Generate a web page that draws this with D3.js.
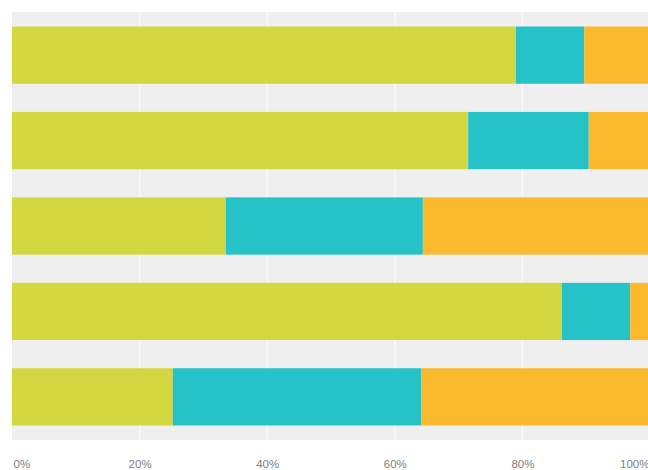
<!DOCTYPE html>
<html>
<head>
<meta charset="utf-8">
<script src="https://cdn.jsdelivr.net/npm/d3@7"></script>
<style>
  body { margin: 0; background: #fff; }
  svg { display: block; }
</style>
</head>
<body>
<svg id="chart" width="648" height="470"></svg>
<script>
// rows, top to bottom
const categories = ["Row 1", "Row 2", "Row 3", "Row 4", "Row 5"]
const seriesNames = ["first", "second", "third"]
const firstValues = [79, 71.5, 33.5, 86.2, 25.2]
const secondValues = [10.7, 18.9, 30.9, 10.7, 38.9]
const thirdValues = [10.3, 9.6, 35.6, 3.1, 35.9]
const colors = ["#d4d840", "#25c2c7", "#fbb92e"]
const tickValues = [0, 20, 40, 60, 80, 100]
const tickLabels = ["0%", "20%", "40%", "60%", "80%", "100%"]

const svg = d3.select("#chart")
const plotLeft = 12, plotRight = 650, plotTop = 12, plotBottom = 440

const x = d3.scaleLinear().domain([0, 100]).range([plotLeft, plotRight])
const y = d3.scaleBand().domain(categories).range([plotTop, plotBottom])
    .paddingInner(0.33).paddingOuter(0.17)

// table for stacking
const rows = categories.map((cat, i) => ({
    cat: cat,
    first: firstValues[i],
    second: secondValues[i],
    third: thirdValues[i]
}))
const stacked = d3.stack().keys(seriesNames)(rows)

// plot background
svg.append("rect")
    .attr("x", plotLeft).attr("y", plotTop)
    .attr("width", plotRight - plotLeft).attr("height", plotBottom - plotTop)
    .attr("fill", "#efefef")

// light vertical grid
svg.append("g")
    .selectAll("line")
    .data(tickValues.slice(1, -1))
    .join("line")
    .attr("x1", d => x(d)).attr("x2", d => x(d))
    .attr("y1", plotTop).attr("y2", plotBottom)
    .attr("stroke", "#f8f8f8")
    .attr("stroke-width", 1.5)

// bars
svg.append("g")
    .selectAll("g")
    .data(stacked)
    .join("g")
    .attr("fill", (d, i) => colors[i])
    .selectAll("rect")
    .data(d => d)
    .join("rect")
    .attr("x", d => x(d[0]))
    .attr("width", d => x(d[1]) - x(d[0]))
    .attr("y", d => y(d.data.cat))
    .attr("height", y.bandwidth())

// x axis labels
const axis = d3.axisBottom(x)
    .tickValues(tickValues)
    .tickFormat((d, i) => tickLabels[i])
    .tickSize(0)
    .tickPadding(0)

const axisG = svg.append("g")
    .attr("transform", "translate(0,460)")
    .call(axis)

axisG.select(".domain").remove()
axisG.selectAll("text")
    .attr("fill", "#808080")
    .attr("font-family", "Liberation Sans, Arial, sans-serif")
    .attr("font-size", 11.5)
    .attr("text-anchor", (d, i) => i === 0 ? "start" : (i === tickValues.length - 1 ? "end" : "middle"))
    .attr("dx", (d, i) => i === 0 ? 1 : (i === tickValues.length - 1 ? -1 : 0))
</script>
</body>
</html>
